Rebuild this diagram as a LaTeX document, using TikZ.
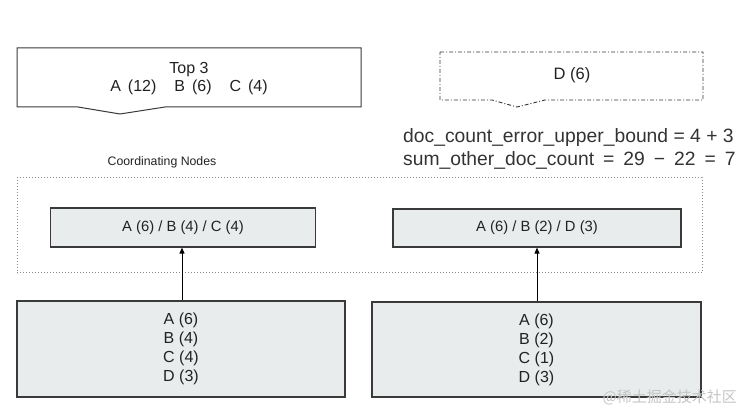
\documentclass[tikz,border=0pt]{standalone}
\usepackage{fontspec}
\setmainfont{Liberation Sans}
\newfontfamily\cjk{Noto Sans CJK SC}
\usetikzlibrary{arrows.meta,calc}
\definecolor{boxfill}{HTML}{E9ECEC}
\definecolor{boxline}{HTML}{3A3A3A}
\definecolor{txt}{HTML}{222222}
\definecolor{dotc}{HTML}{8A8A8A}
\definecolor{wm}{HTML}{C4C4C4}
\newcommand{\wsp}{\hspace{9pt}}
\begin{document}
\begin{tikzpicture}[x=1pt,y=-1pt,
  graybox/.style={draw=boxline,line width=1.2pt,fill=boxfill,inner sep=0pt,text=txt},
  innertext/.style={font=\fontsize{14.8}{17}\selectfont},
  lowtext/.style={font=\fontsize{16}{19}\selectfont,align=center},
  conn/.style={draw=black,line width=0.9pt,-{Triangle[length=6pt,width=5pt]}},
  dottedbox/.style={draw=dotc,line width=1pt,dash pattern=on 0.8pt off 2.2pt,inner sep=0pt},
  plain/.style={inner sep=0pt,text=txt}]
\useasboundingbox (0,0) rectangle (742,419);

% top-left callout shape
\draw[draw=boxline,line width=1pt,fill=white]
  (17,48) -- (361,48) -- (361,107) -- (165,107) -- (120,114) -- (78,107) -- (17,107) -- cycle;
\node[plain,align=center,font=\fontsize{16}{18}\selectfont] (top3) at (189,78.5)
  {Top 3\\A\hspace{7pt}(12)\hspace{18pt}B\hspace{7pt}(6)\hspace{18pt}C\hspace{7pt}(4)};

% top-right dash-dotted callout shape
\draw[draw=boxline,line width=0.9pt,dash pattern=on 4pt off 2pt on 1pt off 2pt]
  (440,52) -- (703,52) -- (703,100) -- (545,100) -- (517,107) -- (492,100) -- (440,100) -- cycle;
\node[plain,font=\fontsize{16.5}{19}\selectfont] (d6) at (572,75) {D (6)};

% formulas
\node[plain,anchor=west,text=black!80,font=\fontsize{19.3}{22}\selectfont] (err) at (403,138)
  {doc\_count\_error\_upper\_bound = 4 + 3};
\node[plain,anchor=west,text=black!80,font=\fontsize{19.3}{22}\selectfont] (sum) at (403,160)
  {sum\_other\_doc\_count\wsp=\wsp29\wsp−\wsp22\wsp=\wsp7};

% coordinating nodes area
\node[plain,font=\fontsize{12.3}{14}\selectfont] (coordlabel) at (162,162) {Coordinating Nodes};
\node[dottedbox,minimum width=685pt,minimum height=95pt] (coord) at (359.5,225.5) {};

\node[graybox,innertext,minimum width=265pt,minimum height=39pt] (innL) at (183,227.5) {A (6) / B (4) / C (4)};
\node[graybox,innertext,minimum width=288pt,minimum height=38pt] (innR) at (537,228) {A (6) / B (2) / D (3)};

% shard boxes
\node[graybox,lowtext,minimum width=328pt,minimum height=96pt] (lowL) at (181,349)
  {A (6)\\B (4)\\C (4)\\D (3)};
\node[graybox,lowtext,minimum width=329pt,minimum height=95pt] (lowR) at (536.5,349.5)
  {A (6)\\B (2)\\C (1)\\D (3)};

% connectors
\draw[conn] ([xshift=1pt]lowL.north) -- ([xshift=1pt]lowL.north |- innL.south);
\draw[conn] ([xshift=0.5pt]lowR.north) -- ([xshift=0.5pt]lowR.north |- innR.south);

% watermark
\node[inner sep=0pt,anchor=east,text=wm,font=\cjk\fontsize{15}{18}\selectfont] (wmark) at (737,397) {@稀土掘金技术社区};
\end{tikzpicture}
\end{document}
